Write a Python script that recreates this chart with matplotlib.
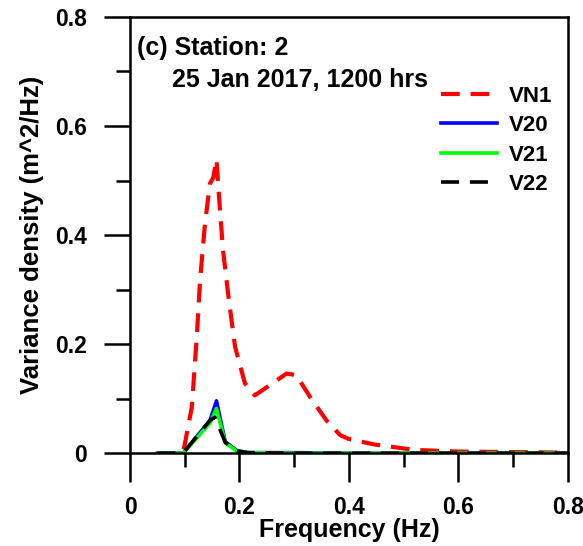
import matplotlib
matplotlib.use("Agg")
import matplotlib.pyplot as plt
from matplotlib.ticker import MultipleLocator, FuncFormatter

plt.rcParams['font.family'] = ['Liberation Sans', 'DejaVu Sans']
plt.rcParams['font.weight'] = 'bold'

# Data
f_vn1 = [0.05, 0.097, 0.113, 0.122, 0.128, 0.137, 0.146, 0.152, 0.158, 0.164, 0.170,
         0.180, 0.192, 0.210, 0.228, 0.250, 0.286, 0.304, 0.329, 0.359, 0.384, 0.40,
         0.446, 0.52, 0.60, 0.70, 0.80]
v_vn1 = [0.0, 0.0, 0.085, 0.213, 0.317, 0.421, 0.494, 0.505, 0.539, 0.451, 0.372,
         0.286, 0.195, 0.128, 0.106, 0.121, 0.146, 0.143, 0.103, 0.060, 0.033, 0.026,
         0.016, 0.006, 0.003, 0.002, 0.001]

f_v20 = [0.05, 0.097, 0.146, 0.158, 0.174, 0.195, 0.215, 0.30, 0.40, 0.50, 0.60, 0.70, 0.80]
v_v20 = [0.0, 0.0, 0.060, 0.096, 0.021, 0.005, 0.001, 0.001, 0.0, 0.0, 0.0, 0.0, 0.0]

f_v21 = [0.05, 0.097, 0.146, 0.158, 0.174, 0.195, 0.215, 0.30, 0.40, 0.50, 0.60, 0.70, 0.80]
v_v21 = [0.0, 0.0, 0.055, 0.082, 0.019, 0.004, 0.001, 0.0, 0.0, 0.0, 0.0, 0.0, 0.0]

f_v22 = [0.05, 0.097, 0.146, 0.155, 0.174, 0.195, 0.215, 0.30, 0.40, 0.50, 0.60, 0.70, 0.80]
v_v22 = [0.0, 0.0, 0.060, 0.066, 0.020, 0.004, 0.001, 0.0, 0.0, 0.0, 0.0, 0.0, 0.0]

series_names = ["VN1", "V20", "V21", "V22"]
title_lines = ["(c) Station: 2", "25 Jan 2017, 1200 hrs"]

fig = plt.figure(figsize=(5.83, 5.46), dpi=100)
ax = fig.add_axes([0.223, 0.170, 0.751, 0.799])

ax.plot(f_vn1, v_vn1, color='#ff0000', lw=3.0, dashes=(4.5, 2.6), label=series_names[0])
ax.plot(f_v20, v_v20, color='#0000ff', lw=2.6, label=series_names[1])
ax.plot(f_v21, v_v21, color='#00ff00', lw=2.6, label=series_names[2])
ax.plot(f_v22, v_v22, color='#000000', lw=2.6, dashes=(5, 3), label=series_names[3])

ax.set_xlim(0, 0.8)
ax.set_ylim(0, 0.8)
ax.xaxis.set_major_locator(MultipleLocator(0.2))
ax.xaxis.set_minor_locator(MultipleLocator(0.1))
ax.yaxis.set_major_locator(MultipleLocator(0.2))
ax.yaxis.set_minor_locator(MultipleLocator(0.1))
fmt = FuncFormatter(lambda v, p: "0" if abs(v) < 1e-9 else f"{v:.1f}")
ax.xaxis.set_major_formatter(fmt)
ax.yaxis.set_major_formatter(fmt)

for s in ax.spines.values():
    s.set_linewidth(1.8)
ax.tick_params(which='major', direction='out', length=19, width=1.8, labelsize=16.5, pad=12)
ax.tick_params(which='minor', direction='out', length=10, width=1.8)
ax.tick_params(axis='x', which='major', length=21, pad=10)
for lab in ax.get_xticklabels() + ax.get_yticklabels():
    lab.set_fontweight('bold')

ax.set_xlabel("Frequency (Hz)", fontsize=18, fontweight='bold')
ax.xaxis.label.set_va('baseline')
ax.xaxis.set_label_coords(0.5, -0.193)
ax.set_ylabel("Variance density (m^2/Hz)", fontsize=18.5, fontweight='bold', labelpad=8)

ax.text(0.015, 0.929, title_lines[0], transform=ax.transAxes, fontsize=18,
        fontweight='bold', va='center', ha='left')
ax.text(0.096, 0.856, title_lines[1], transform=ax.transAxes, fontsize=18,
        fontweight='bold', va='center', ha='left')

leg = ax.legend(loc='upper right', bbox_to_anchor=(1.0, 0.878), frameon=False,
                prop={'weight': 'bold', 'size': 16}, handlelength=2.5,
                handletextpad=0.55, labelspacing=0.38, borderaxespad=0.3)

fig.savefig("out.png", dpi=100)
